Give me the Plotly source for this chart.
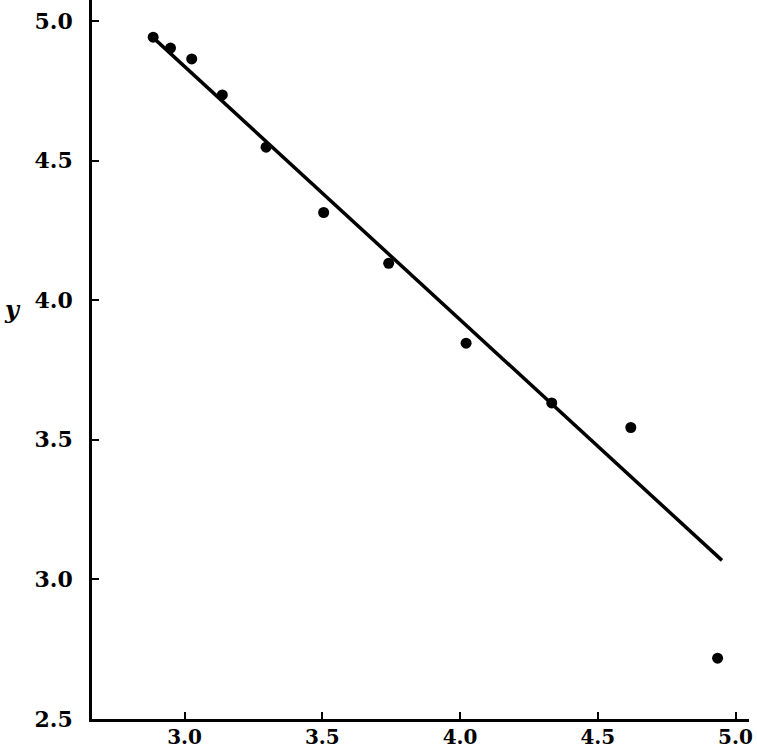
import plotly.graph_objects as go

x_points = [2.886, 2.949, 3.026, 3.137, 3.296, 3.505, 3.741, 4.022, 4.333, 4.620, 4.935]
y_points = [4.942, 4.903, 4.864, 4.735, 4.548, 4.314, 4.132, 3.846, 3.632, 3.544, 2.718]

# Faint open circle (ghost point)
x_ghost = [4.345]
y_ghost = [3.016]

# Fitted straight line endpoints
line_x = [2.883, 4.951]
line_y = [4.943, 3.068]

# Axis ticks
x_ticks = [3.0, 3.5, 4.0, 4.5, 5.0]
x_tick_labels = ["3.0", "3.5", "4.0", "4.5", "5.0"]
y_ticks = [2.5, 3.0, 3.5, 4.0, 4.5, 5.0]
y_tick_labels = ["2.5", "3.0", "3.5", "4.0", "4.5", "5.0"]

fig = go.Figure()

fig.add_trace(go.Scatter(
    x=line_x, y=line_y, mode="lines",
    line=dict(color="black", width=3.5),
    showlegend=False, hoverinfo="skip",
))

fig.add_trace(go.Scatter(
    x=x_points, y=y_points, mode="markers",
    marker=dict(color="black", size=11, line=dict(width=0)),
    showlegend=False,
))

fig.add_trace(go.Scatter(
    x=x_ghost, y=y_ghost, mode="markers",
    marker=dict(color="rgba(0,0,0,0)", size=13, symbol="circle-open",
                line=dict(color="#999999", width=1)),
    showlegend=False,
))

tick_font_y = dict(family="DejaVu Serif, Liberation Serif, serif", size=22,
                   color="black", weight="bold")
tick_font_x = dict(family="DejaVu Serif, Liberation Serif, serif", size=20,
                   color="black", weight="bold")

fig.update_xaxes(
    range=[2.664, 5.049],
    tickvals=x_ticks, ticktext=x_tick_labels,
    ticks="inside", ticklen=7, tickwidth=2, tickcolor="black",
    showline=True, linecolor="black", linewidth=2.5,
    showgrid=False, zeroline=False,
    tickfont=tick_font_x, automargin=False,
    ticklabelstandoff=-2,
)
fig.update_yaxes(
    range=[2.5, 5.075],
    tickvals=y_ticks, ticktext=y_tick_labels,
    ticks="inside", ticklen=7, tickwidth=2, tickcolor="black",
    showline=True, linecolor="black", linewidth=2.5,
    showgrid=False, zeroline=False,
    tickfont=tick_font_y, automargin=False,
    ticklabelstandoff=12,
)

fig.add_annotation(
    text="<b><i>y</i></b>", xref="paper", yref="paper",
    x=-0.121, y=0.569, xanchor="center", showarrow=False,
    font=dict(family="DejaVu Serif, Liberation Serif, serif", size=24, color="black"),
)

fig.update_layout(
    width=757, height=748,
    margin=dict(l=92, r=8, t=0, b=29),
    plot_bgcolor="white", paper_bgcolor="white",
)

fig.write_html(
    "out.html",
    config={"displayModeBar": False},
    post_script="document.body.style.margin='0px';document.body.style.overflow='hidden';",
)
